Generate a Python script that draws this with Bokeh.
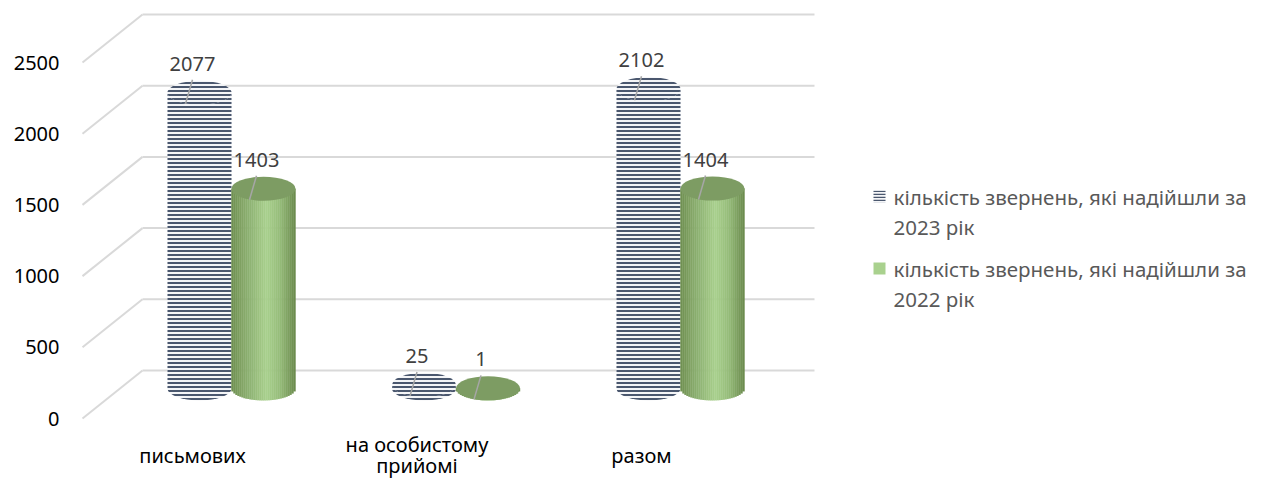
import numpy as np
from bokeh.plotting import figure
from bokeh.models import Range1d, FixedTicker
from bokeh.core.properties import value
from bokeh.embed import file_html
from bokeh.resources import INLINE

# ---------------- data ----------------
categories = ["письмових", "на особистому\nприйомі", "разом"]
series_2023 = [2077, 25, 2102]
series_2022 = [1403, 1, 1404]
legend_2023 = ["кількість звернень, які надійшли за", "2023 рік"]
legend_2022 = ["кількість звернень, які надійшли за", "2022 рік"]
y_ticks = [0, 500, 1000, 1500, 2000, 2500]

# ---------------- layout (picture pixels) ----------------
W, H = 1251, 479
LEFT = 78
FX0, FX1 = LEFT, W           # frame in picture x
FY0, FY1 = 0, H              # frame in picture y
SCALE = 0.1424               # px per unit
Y0 = 418                     # picture y of value 0 on the front plane
FONT = "Noto Sans"


def val(py):
    return (Y0 - py) / SCALE


def dv(px):
    return px / SCALE


p = figure(width=W, height=H, x_range=Range1d(FX0, FX1), y_range=Range1d(val(FY1), val(FY0)),
           output_backend="svg", toolbar_location=None, x_axis_location=None,
           min_border_left=LEFT, min_border_right=0, min_border_top=0, min_border_bottom=0,
           outline_line_color=None, background_fill_color="white")
p.grid.visible = False
ax = p.yaxis[0]
ax.ticker = FixedTicker(ticks=y_ticks)
ax.axis_line_color = None
ax.major_tick_line_color = None
ax.minor_tick_line_color = None
ax.major_tick_out = 0
ax.major_tick_in = 0
ax.major_label_standoff = 19
ax.major_label_text_font = FONT
ax.major_label_text_font_size = "20px"
ax.major_label_text_color = "#000000"

# ---------------- 3D walls / gridlines ----------------
GRID_FRONT_X, GRID_BACK_X, GRID_RIGHT_X = 82, 142, 814
DEPTH_PX = 48
ticks = np.array(y_ticks, dtype=float)
p.segment(x0=[GRID_FRONT_X] * len(ticks), y0=ticks, x1=[GRID_BACK_X] * len(ticks),
          y1=ticks + dv(DEPTH_PX), line_color="#d9d9d9", line_width=2)
p.segment(x0=[GRID_BACK_X] * len(ticks), y0=ticks + dv(DEPTH_PX), x1=[GRID_RIGHT_X] * len(ticks),
          y1=ticks + dv(DEPTH_PX), line_color="#d9d9d9", line_width=2)

# ---------------- cylinders ----------------
PAIR_X0, PAIR_STEP = 231, 224.5
BAR_W = 64
ELL_H = 24
BASE = val(388)
pair_c = [PAIR_X0 + i * PAIR_STEP for i in range(len(categories))]
cx23 = [c - BAR_W / 2 for c in pair_c]
cx22 = [c + BAR_W / 2 for c in pair_c]
tops23 = [BASE + v for v in series_2023]
tops22 = [BASE + v for v in series_2022]

STRIPE = dict(fill_color="#f4f5f7", hatch_pattern="horizontal_line", hatch_color="#4a576e",
              hatch_scale=4, hatch_weight=2, line_color=None)

# 2023 striped cylinders
p.ellipse(x=cx23, y=[BASE] * 3, width=BAR_W, height=ELL_H, width_units="data",
          height_units="screen", **STRIPE)
p.vbar(x=cx23, width=BAR_W, bottom=[BASE] * 3, top=tops23, **STRIPE)
p.ellipse(x=cx23, y=tops23, width=BAR_W, height=ELL_H, height_units="screen", **STRIPE)

# 2022 green shaded cylinders
stops_u = [-1.0, -0.6, 0.1, 0.5, 1.0]
stops_c = [(0x6e, 0x8f, 0x50), (0x86, 0xa9, 0x6a), (0xa8, 0xd0, 0x8d), (0x96, 0xbd, 0x7a), (0x69, 0x89, 0x4b)]


def shade(u):
    rgb = [int(round(np.interp(u, stops_u, [c[k] for c in stops_c]))) for k in range(3)]
    return "#%02x%02x%02x" % tuple(rgb)


N = 32
sx, sb, st, sc = [], [], [], []
for c, t in zip(cx22, tops22):
    for j in range(N):
        u = -1 + (2 * j + 1) / N
        sx.append(c + u * BAR_W / 2)
        sb.append(BASE - dv(ELL_H / 2 * np.sqrt(max(0.0, 1 - u * u))))
        st.append(t)
        sc.append(shade(u))
p.vbar(x=sx, width=BAR_W / N + 0.4, bottom=sb, top=st, fill_color=sc, line_color=None)
p.ellipse(x=cx22, y=tops22, width=BAR_W, height=ELL_H, height_units="screen",
          fill_color="#7d9c63", line_color=None)

# ---------------- data labels + leader lines ----------------
all_x = cx23 + cx22
all_top = tops23 + tops22
all_v = series_2023 + series_2022
p.segment(x0=[x - 7 for x in all_x], y0=[t + dv(13) for t in all_top],
          x1=[x - 14 for x in all_x], y1=[t - dv(11) for t in all_top],
          line_color="#a6a6a6", line_width=1.5)
p.text(x=[x - 7 for x in all_x], y=[t + dv(29) for t in all_top], text=[str(v) for v in all_v],
       text_align="center", text_baseline="middle", text_font=value(FONT),
       text_font_size="20px", text_color="#404040")

# ---------------- category labels ----------------
lx, ly, lt = [], [], []
for c, name in zip(pair_c, categories):
    lines = name.split("\n")
    first = 455 if len(lines) == 1 else 444
    for k, line in enumerate(lines):
        lx.append(c - 39)
        ly.append(val(first + k * 21))
        lt.append(line)
p.text(x=lx, y=ly, text=lt, text_align="center", text_baseline="middle",
       text_font=value(FONT), text_font_size="20px", text_color="#000000")

# ---------------- legend ----------------
LEG_ICON_X, LEG_TEXT_X = 873, 893
leg_rows = [196, 268]
p.quad(left=[LEG_ICON_X], right=[LEG_ICON_X + 12], top=[val(leg_rows[0] - 6)],
       bottom=[val(leg_rows[0] + 6)], fill_color="#f4f5f7", hatch_pattern="horizontal_line",
       hatch_color="#4a576e", hatch_scale=3, hatch_weight=1.5, line_color=None)
p.quad(left=[LEG_ICON_X], right=[LEG_ICON_X + 12], top=[val(leg_rows[1] - 6)],
       bottom=[val(leg_rows[1] + 6)], fill_color="#a9d18e", line_color=None)
tx, ty, tt = [], [], []
for row, lines in zip(leg_rows, [legend_2023, legend_2022]):
    for k, line in enumerate(lines):
        tx.append(LEG_TEXT_X)
        ty.append(val(row + k * 30))
        tt.append(line)
p.text(x=tx, y=ty, text=tt, text_align="left", text_baseline="middle",
       text_font=value(FONT), text_font_size="20.5px", text_color="#595959")

open("out.html", "w").write(file_html(p, INLINE))
